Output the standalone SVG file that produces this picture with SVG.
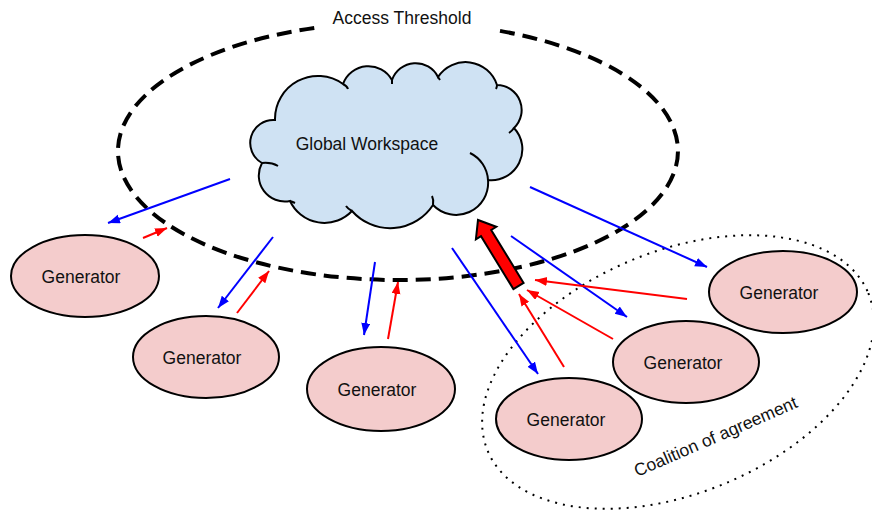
<svg xmlns="http://www.w3.org/2000/svg" width="872" height="513" viewBox="0 0 872 513">
<style>
  text { font-family: "Liberation Sans", Arial, sans-serif; font-size: 17.5px; fill: #111; }
  .gen ellipse { fill: #f4cccc; stroke: #000; stroke-width: 2; }
  .gen text { text-anchor: middle; }
  .blue { stroke: #0000ff; stroke-width: 2; fill: none; marker-end: url(#ab); }
  .red { stroke: #ff0000; stroke-width: 2; fill: none; marker-end: url(#ar); }
  .cloud { fill: #cfe2f3; stroke: #000; stroke-width: 2; }
  .hook { fill: none; stroke: #000; stroke-width: 2; }
</style>
<defs>
  <marker id="ab" markerUnits="userSpaceOnUse" markerWidth="13" markerHeight="10" refX="12" refY="4.5" orient="auto">
    <path d="M0,0 L12,4.5 L0,9 Z" fill="#0000ff"/>
  </marker>
  <marker id="ar" markerUnits="userSpaceOnUse" markerWidth="13" markerHeight="10" refX="12" refY="4.5" orient="auto">
    <path d="M0,0 L12,4.5 L0,9 Z" fill="#ff0000"/>
  </marker>
</defs>
<rect width="872" height="513" fill="#fff"/>

<g id="access-threshold">
  <path d="M 500 30.9 A 280 129 0 1 1 318 27.4" fill="none" stroke="#000" stroke-width="4" stroke-dasharray="15 8"/>
  <text x="402" y="24" text-anchor="middle">Access Threshold</text>
</g>

<g id="coalition">
  <ellipse cx="678" cy="372" rx="206" ry="121" transform="rotate(-22.5 678 372)" fill="none" stroke="#000" stroke-width="2" stroke-dasharray="2 6"/>
  <text x="718" y="442" text-anchor="middle" transform="rotate(-23.5 718 442)">Coalition of agreement</text>
</g>

<g id="global-workspace">
  <path class="cloud" d="M 275 120 A 43 43 0 0 1 343 84 A 27 27 0 0 1 392 80 A 25 25 0 0 1 438 77 A 33 33 0 0 1 497 85 A 25 25 0 0 1 514 128 A 31 31 0 0 1 488 180 A 32 32 0 0 1 433 205 A 51 51 0 0 1 352 211 A 38 38 0 0 1 290 201 A 26 26 0 0 1 262 163 A 23 23 0 0 1 275 120 Z"/>
  <path class="hook" d="M 470 153 A 32 32 0 0 1 488 180"/>
  <path class="hook" d="M 262 163 Q 271 162 278 166"/>
  <path class="hook" d="M 343 84 Q 347 86 348 89"/>
  <path class="hook" d="M 392 80 L 392 84"/>
  <path class="hook" d="M 438 77 L 440 80"/>
  <path class="hook" d="M 497 85 Q 497 87 496 89"/>
  <path class="hook" d="M 514 128 Q 512 131 509 133"/>
  <path class="hook" d="M 433 205 Q 434 200 432 196"/>
  <path class="hook" d="M 352 211 Q 348 209 346 206"/>
  <path class="hook" d="M 290 201 Q 293 202 295 203"/>
  <text x="367" y="150" text-anchor="middle">Global Workspace</text>
</g>

<g id="gen1" class="gen"><ellipse cx="85" cy="276" rx="74" ry="41"/><text x="81" y="283">Generator</text></g>
<g id="gen2" class="gen"><ellipse cx="206" cy="357" rx="73" ry="41"/><text x="202" y="364">Generator</text></g>
<g id="gen3" class="gen"><ellipse cx="381" cy="389" rx="74" ry="42"/><text x="377" y="396">Generator</text></g>
<g id="gen4" class="gen"><ellipse cx="569" cy="419" rx="73" ry="41"/><text x="566" y="426">Generator</text></g>
<g id="gen5" class="gen"><ellipse cx="686" cy="362" rx="73" ry="41"/><text x="683" y="369">Generator</text></g>
<g id="gen6" class="gen"><ellipse cx="783" cy="292" rx="74" ry="41"/><text x="779" y="299">Generator</text></g>

<g id="connectors">
  <line class="blue" x1="230" y1="179" x2="108" y2="223"/>
  <line class="blue" x1="273" y1="237" x2="218" y2="308"/>
  <line class="blue" x1="375" y1="262" x2="364" y2="335"/>
  <line class="blue" x1="452" y1="248" x2="538" y2="374"/>
  <line class="blue" x1="511" y1="236" x2="627" y2="317"/>
  <line class="blue" x1="530" y1="187" x2="707" y2="267"/>
  <line class="red" x1="143" y1="238" x2="167" y2="228"/>
  <line class="red" x1="237" y1="313" x2="269" y2="271"/>
  <line class="red" x1="388" y1="339" x2="398" y2="282"/>
  <line class="red" x1="564" y1="367" x2="519" y2="294"/>
  <line class="red" x1="613" y1="339" x2="527" y2="290"/>
  <line class="red" x1="687" y1="299" x2="535" y2="280"/>
  <polygon points="523.6,282.9 491.2,230 496.3,226.8 478,220 475.9,239.4 481,236.2 513.4,289.1" fill="#ff0000" stroke="#000" stroke-width="2" stroke-linejoin="miter"/>
</g>
</svg>
